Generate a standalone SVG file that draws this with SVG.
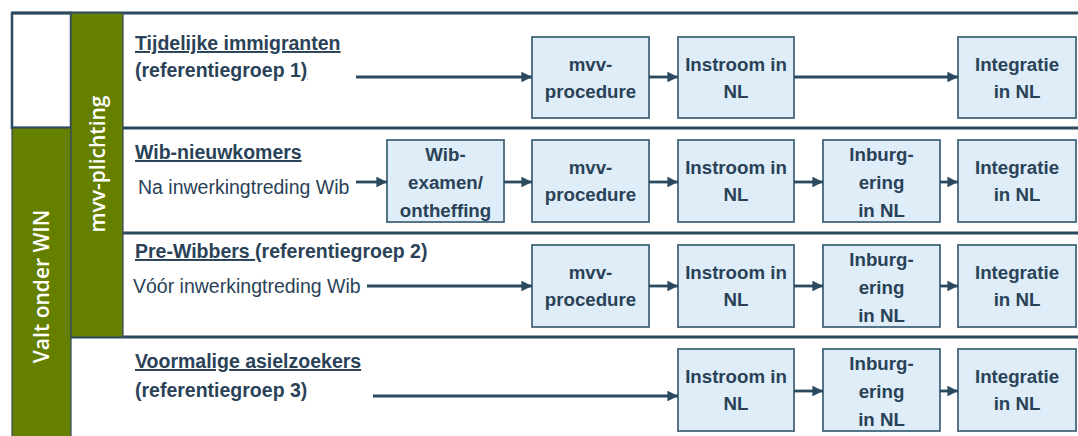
<svg xmlns="http://www.w3.org/2000/svg" width="1078" height="436" viewBox="0 0 1078 436">
<defs>
<marker id="ah" viewBox="0 0 10 10" refX="10" refY="5" markerWidth="3.8" markerHeight="3.8" orient="auto" markerUnits="strokeWidth">
<path d="M0,0 L10,5 L0,10 z" fill="#2b4a60"/>
</marker>
<style>
.box{fill:#deedf7;stroke:#45667c;stroke-width:1.8}
.bt{font-family:"Liberation Sans",Arial,sans-serif;font-weight:bold;font-size:18.7px;fill:#2a4258;text-anchor:middle}
.hd{font-family:"Liberation Sans",Arial,sans-serif;font-weight:bold;font-size:19.5px;fill:#2a4258}
.rg{font-family:"Liberation Sans",Arial,sans-serif;font-size:19.5px;fill:#2a4258}
.sep{stroke:#2b4a60;stroke-width:3;fill:none}
.con{stroke:#2b4a60;stroke-width:2.8;fill:none;marker-end:url(#ah)}
.grn{fill:#658000;stroke:#34495a;stroke-width:1.2}
.vt{font-family:"Open Sans","Liberation Sans",Arial,sans-serif;font-weight:600;font-size:21px;fill:#ffffff;text-anchor:middle}
.ul{text-decoration:underline}
</style>
</defs>
<g id="frame">
<rect x="12" y="13" width="59" height="115" fill="#ffffff" stroke="#2b4a60" stroke-width="2.5"/>
<line class="sep" x1="12" y1="13" x2="1078" y2="13"/>
<line class="sep" x1="12" y1="128" x2="1078" y2="128"/>
<line class="sep" x1="123" y1="233" x2="1078" y2="233"/>
<line class="sep" x1="71" y1="337" x2="1078" y2="337"/>
</g>
<g id="col-win">
<rect class="grn" x="12" y="128" width="59" height="310"/>
<text class="vt" transform="translate(49,286.5) rotate(-90)">Valt onder WIN</text>
</g>
<g id="col-mvv">
<rect class="grn" x="71" y="13" width="52" height="324"/>
<text class="vt" transform="translate(104.5,164) rotate(-90)">mvv-plichting</text>
</g>
<g id="labels">
<text class="hd" x="135" y="50"><tspan class="ul">Tijdelijke immigranten</tspan></text>
<text class="hd" x="135" y="77"><tspan class="ul">(</tspan>referentiegroep 1<tspan class="ul">)</tspan></text>
<text class="hd" x="135" y="159"><tspan class="ul">Wib-nieuwkomers</tspan></text>
<text class="rg" x="138" y="194">Na inwerkingtreding Wib</text>
<text class="hd" x="135" y="258"><tspan class="ul">Pre-Wibbers </tspan>(referentiegroep 2)</text>
<text class="rg" x="133" y="293">Vóór inwerkingtreding Wib</text>
<text class="hd" x="135" y="368"><tspan class="ul">Voormalige asielzoekers</tspan></text>
<text class="hd" x="135" y="397"><tspan class="ul">(</tspan>referentiegroep 3)</text>
</g>
<g id="r1-mvv"><rect class="box" x="532" y="37" width="117" height="81"/><text class="bt"><tspan x="590.5" y="71">mvv-</tspan><tspan x="590.5" y="98">procedure</tspan></text></g>
<g id="r1-instroom"><rect class="box" x="678" y="37" width="116" height="81"/><text class="bt"><tspan x="736" y="71">Instroom in</tspan><tspan x="736" y="98">NL</tspan></text></g>
<g id="r1-integratie"><rect class="box" x="958" y="37" width="118" height="81"/><text class="bt"><tspan x="1017" y="71">Integratie</tspan><tspan x="1017" y="98">in NL</tspan></text></g>

<g id="r2-wib"><rect class="box" x="387" y="140" width="117" height="82"/><text class="bt"><tspan x="445.5" y="161">Wib-</tspan><tspan x="445.5" y="189">examen/</tspan><tspan x="445.5" y="217">ontheffing</tspan></text></g>
<g id="r2-mvv"><rect class="box" x="532" y="140" width="117" height="82"/><text class="bt"><tspan x="590.5" y="174">mvv-</tspan><tspan x="590.5" y="201">procedure</tspan></text></g>
<g id="r2-instroom"><rect class="box" x="678" y="140" width="116" height="82"/><text class="bt"><tspan x="736" y="174">Instroom in</tspan><tspan x="736" y="201">NL</tspan></text></g>
<g id="r2-inburgering"><rect class="box" x="823" y="140" width="117" height="82"/><text class="bt"><tspan x="881.5" y="161">Inburg-</tspan><tspan x="881.5" y="189">ering</tspan><tspan x="881.5" y="217">in NL</tspan></text></g>
<g id="r2-integratie"><rect class="box" x="958" y="140" width="118" height="82"/><text class="bt"><tspan x="1017" y="174">Integratie</tspan><tspan x="1017" y="201">in NL</tspan></text></g>

<g id="r3-mvv"><rect class="box" x="532" y="245" width="117" height="82"/><text class="bt"><tspan x="590.5" y="279">mvv-</tspan><tspan x="590.5" y="306">procedure</tspan></text></g>
<g id="r3-instroom"><rect class="box" x="678" y="245" width="116" height="82"/><text class="bt"><tspan x="736" y="279">Instroom in</tspan><tspan x="736" y="306">NL</tspan></text></g>
<g id="r3-inburgering"><rect class="box" x="823" y="245" width="117" height="82"/><text class="bt"><tspan x="881.5" y="266">Inburg-</tspan><tspan x="881.5" y="294">ering</tspan><tspan x="881.5" y="322">in NL</tspan></text></g>
<g id="r3-integratie"><rect class="box" x="958" y="245" width="118" height="82"/><text class="bt"><tspan x="1017" y="279">Integratie</tspan><tspan x="1017" y="306">in NL</tspan></text></g>

<g id="r4-instroom"><rect class="box" x="678" y="349" width="116" height="82"/><text class="bt"><tspan x="736" y="383">Instroom in</tspan><tspan x="736" y="410">NL</tspan></text></g>
<g id="r4-inburgering"><rect class="box" x="823" y="349" width="117" height="82"/><text class="bt"><tspan x="881.5" y="370">Inburg-</tspan><tspan x="881.5" y="398">ering</tspan><tspan x="881.5" y="426">in NL</tspan></text></g>
<g id="r4-integratie"><rect class="box" x="958" y="349" width="118" height="82"/><text class="bt"><tspan x="1017" y="383">Integratie</tspan><tspan x="1017" y="410">in NL</tspan></text></g>

<g id="connectors">
<line class="con" x1="356" y1="77" x2="532" y2="77"/>
<line class="con" x1="649" y1="77" x2="678" y2="77"/>
<line class="con" x1="794" y1="77" x2="958" y2="77"/>
<line class="con" x1="356" y1="182" x2="387" y2="182"/>
<line class="con" x1="504" y1="182" x2="532" y2="182"/>
<line class="con" x1="649" y1="182" x2="678" y2="182"/>
<line class="con" x1="794" y1="182" x2="823" y2="182"/>
<line class="con" x1="940" y1="182" x2="958" y2="182"/>
<line class="con" x1="367" y1="286" x2="532" y2="286"/>
<line class="con" x1="649" y1="286" x2="678" y2="286"/>
<line class="con" x1="794" y1="286" x2="823" y2="286"/>
<line class="con" x1="940" y1="286" x2="958" y2="286"/>
<line class="con" x1="373" y1="396" x2="678" y2="396"/>
<line class="con" x1="794" y1="391" x2="823" y2="391"/>
<line class="con" x1="940" y1="391" x2="958" y2="391"/>
</g>
</svg>
